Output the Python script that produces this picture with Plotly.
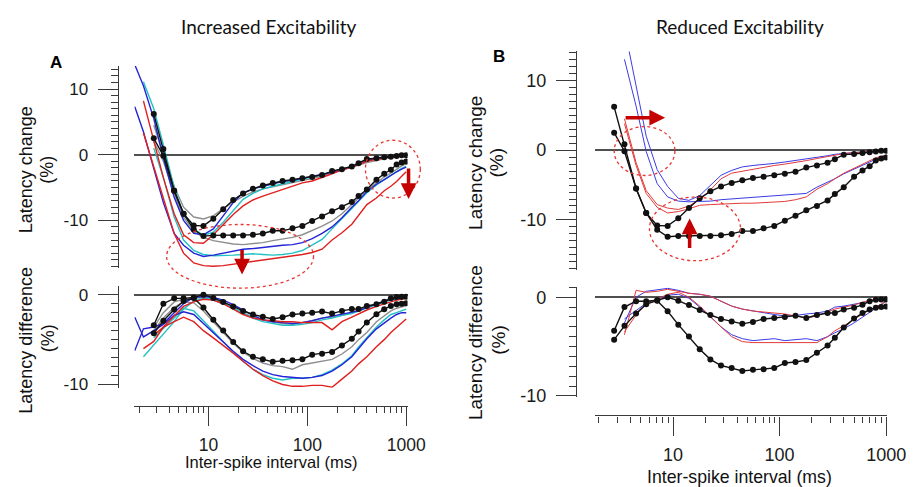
import plotly.graph_objects as go

# ---------------- data ----------------
# control (black, dotted) inter-spike intervals (ms)
ISI_CTRL = [2.8, 3.5, 4.5, 5.6, 7.1, 8.9, 11.2, 14.1, 17.8, 22.4, 28.2, 35.5, 44.7, 56.2, 70.8,
            89.1, 112, 141, 178, 224, 282, 330, 400, 500, 600, 700, 800, 900, 1000]
CTRL_1_TOP = [6.2, 0.85, -5.5, -9.0, -10.8, -10.85, -9.75, -8.3, -6.9, -5.9, -5.2, -4.7, -4.3, -4.0, -3.8,
              -3.6, -3.4, -3.1, -2.5, -2.2, -1.8, -1.3, -0.65, -0.55, -0.4, -0.3, -0.2, -0.1, -0.1]
CTRL_2_TOP = [2.5, -0.15, -5.5, -9.0, -11.4, -12.4, -12.3, -12.3, -12.3, -12.3, -12.2, -12.0, -11.6, -11.6, -11.2,
              -10.85, -10.1, -9.4, -8.6, -8.0, -7.2, -6.3, -5.3, -3.8, -2.9, -2.3, -1.5, -1.2, -1.05]
CTRL_1_DIFF = [-3.4, -1.0, -0.4, -0.4, -0.3, 0.0, -0.35, -0.8, -1.3, -1.8, -2.2, -2.45, -2.7, -2.5, -2.2,
               -2.1, -2.0, -1.87, -2.1, -1.8, -1.6, -1.6, -1.25, -1.06, -0.77, -0.4, -0.26, -0.22, -0.22]
CTRL_2_DIFF = [-4.3, -2.9, -1.65, -0.7, -0.35, -1.43, -2.78, -3.99, -5.27, -6.3, -6.92, -7.18, -7.47, -7.36, -7.29,
               -7.18, -6.67, -6.56, -6.37, -5.64, -4.9, -4.1, -3.08, -2.16, -1.61, -1.25, -1.06, -1.0, -0.95]

# model curves (thin coloured lines) intervals (ms)
ISI_MODEL = [1.8, 2.2, 2.8, 3.5, 4.5, 5.6, 7.1, 8.9, 11.2, 14.1, 17.8, 22.4, 28.2, 35.5, 44.7, 56.2,
             70.8, 89.1, 112, 141, 178, 224, 282, 330, 400, 500, 600, 700, 800, 900, 1000]

# Panel A - latency change
A_GRAY_1 = [None, None, 4.5, 0.2, -4.8, -8.0, -9.5, -9.8, -9.3, -8.2, -7.2, -6.3, -5.7, -5.2, -4.9, -4.6,
            -4.3, -4.0, -3.7, -3.3, -2.8, -2.3, -1.9, -1.6, -1.2, -0.9, -0.6, -0.4, -0.3, -0.2, -0.1]
A_GRAY_2 = [None, None, 2.0, -1.0, -6.0, -9.5, -11.7, -12.6, -13.1, -13.4, -13.6, -13.7, -13.6, -13.4, -13.1, -12.9,
            -12.6, -12.2, -11.6, -10.9, -10.1, -9.0, -7.6, -6.6, -5.4, -4.3, -3.4, -2.8, -2.2, -1.7, -1.4]
A_CYAN_1 = [None, 11.1, 7.0, 1.5, -5.0, -9.0, -11.3, -12.3, -11.8, -10.3, -8.5, -6.8, -5.9, -5.2, -4.8, -4.4,
            -4.0, -3.7, -3.4, -3.0, -2.6, -2.2, -1.8, -1.4, -0.9, -0.6, -0.4, -0.3, -0.2, -0.1, -0.1]
A_CYAN_2 = [None, None, 1.0, -3.5, -9.5, -13.0, -14.6, -15.2, -15.4, -15.4, -15.3, -15.2, -15.1, -15.2, -15.3, -15.2,
            -15.0, -14.6, -13.8, -12.9, -11.3, -9.8, -8.2, -7.1, -5.8, -4.6, -3.8, -3.1, -2.5, -2.1, -1.8]
A_BLUE_1 = [13.7, 10.5, 5.5, -0.5, -6.5, -10.0, -12.0, -12.2, -11.3, -9.3, -7.3, -5.8, -5.2, -4.8, -4.4, -4.1,
            -3.9, -3.6, -3.4, -3.1, -2.7, -2.3, -1.8, -1.3, -0.8, -0.5, -0.3, -0.2, -0.1, -0.1, 0.0]
A_BLUE_2 = [7.3, 3.5, -2.1, -7.3, -12.0, -13.8, -15.0, -15.5, -15.3, -15.0, -14.7, -14.4, -14.3, -14.1, -13.9, -13.8,
            -13.7, -13.4, -12.8, -12.0, -11.0, -9.6, -8.0, -7.0, -5.6, -4.5, -3.8, -3.1, -2.6, -2.2, -1.9]
A_RED_1 = [None, 8.2, 2.0, -3.5, -9.0, -12.2, -13.4, -13.5, -12.2, -10.6, -9.1, -7.8, -6.9, -6.3, -5.8, -5.3,
           -4.7, -4.3, -4.0, -3.5, -2.9, -2.3, -1.9, -1.5, -1.0, -0.7, -0.5, -0.3, -0.2, -0.1, -0.1]
A_RED_2 = [None, 3.3, -1.8, -6.5, -12.0, -15.0, -16.5, -16.9, -17.0, -16.9, -16.7, -16.5, -16.3, -16.1, -15.9, -15.7,
           -15.5, -15.2, -14.9, -14.4, -13.0, -11.9, -10.6, -9.3, -7.6, -6.6, -5.5, -4.8, -4.1, -3.3, -2.6]

# Panel A - latency difference
A_GRAY_1_D = [None, None, -3.6, -2.0, -0.8, -0.5, -0.4, -0.3, -0.6, -1.0, -1.5, -2.0, -2.5, -2.8, -3.0, -3.2,
              -3.3, -3.1, -2.9, -2.6, -2.5, -2.3, -2.0, -1.7, -1.4, -1.0, -0.7, -0.5, -0.4, -0.3, -0.3]
A_GRAY_2_D = [None, None, -4.0, -2.6, -1.4, -0.8, -0.9, -1.8, -3.0, -4.2, -5.4, -6.4, -7.1, -7.6, -7.9, -8.0,
              -8.3, -7.8, -7.6, -7.4, -7.2, -6.6, -5.8, -5.0, -4.2, -3.0, -2.3, -1.8, -1.5, -1.3, -1.2]
A_CYAN_1_D = [None, -6.9, -5.6, -4.4, -3.0, -1.6, -0.7, -0.4, -0.5, -0.9, -1.5, -2.1, -2.6, -3.0, -3.2, -3.4,
              -3.4, -3.3, -3.1, -2.8, -2.6, -2.3, -2.1, -1.8, -1.5, -1.1, -0.8, -0.6, -0.5, -0.4, -0.4]
A_CYAN_2_D = [None, None, -4.8, -3.8, -2.6, -1.5, -1.8, -2.9, -4.1, -5.3, -6.4, -7.4, -8.3, -8.9, -9.3, -9.5,
              -9.3, -9.3, -9.2, -8.9, -8.4, -7.7, -6.8, -5.8, -4.8, -3.6, -2.8, -2.2, -2.0, -1.8, -1.6]
A_BLUE_1_D = [-6.2, -3.8, -3.6, -3.2, -2.0, -1.0, -0.3, -0.2, -0.3, -0.6, -1.1, -1.7, -2.3, -2.8, -3.0, -3.1,
              -3.2, -3.1, -2.9, -2.6, -2.4, -2.2, -2.0, -1.8, -1.4, -1.0, -0.7, -0.5, -0.4, -0.3, -0.3]
A_BLUE_2_D = [-2.5, -4.7, -4.0, -3.3, -2.3, -1.9, -2.2, -3.2, -4.2, -5.3, -6.3, -7.2, -7.9, -8.5, -8.9, -9.1,
              -9.2, -9.3, -9.2, -9.0, -8.5, -7.8, -6.9, -6.0, -4.9, -3.8, -3.1, -2.6, -2.2, -2.0, -2.0]
A_RED_1_D = [None, -6.0, -5.2, -3.6, -2.4, -1.3, -0.8, -0.5, -0.6, -1.0, -1.6, -2.2, -2.6, -2.8, -2.9, -3.0,
             -3.0, -3.1, -3.1, -3.1, -3.9, -3.0, -2.5, -2.1, -1.7, -1.3, -1.0, -0.8, -0.6, -0.5, -0.4]
A_RED_2_D = [None, None, -4.5, -3.6, -3.0, -2.5, -3.0, -4.0, -4.8, -5.6, -6.5, -7.4, -8.3, -9.0, -9.6, -10.0,
             -10.2, -10.2, -10.1, -10.1, -10.3, -9.4, -8.5, -7.7, -6.9, -5.8, -5.0, -4.2, -3.6, -3.1, -2.7]

# Panel B - latency change
B_BLUE_1 = [None, None, None, 17.5, 9.0, 2.0, -2.8, -5.2, -6.9, -7.2, -6.5, -5.0, -3.6, -2.9, -2.4, -2.2,
            -2.1, -1.9, -1.7, -1.5, -1.3, -1.0, -0.8, -0.6, -0.45, -0.35, -0.25, -0.2, -0.1, -0.1, -0.05]
B_BLUE_2 = [None, None, None, 13.0, 6.3, -0.2, -4.8, -6.7, -7.3, -7.4, -7.35, -7.3, -7.1, -7.0, -6.9, -6.8,
            -6.7, -6.6, -6.5, -6.4, -6.2, -5.3, -4.6, -4.1, -3.4, -2.7, -2.1, -1.7, -1.3, -1.0, -0.8]
B_RED_1 = [None, None, None, 4.5, -1.8, -5.8, -7.8, -8.3, -8.5, -8.0, -7.1, -5.7, -4.1, -3.3, -3.0, -2.7,
           -2.4, -2.2, -2.0, -1.8, -1.5, -1.2, -0.9, -0.7, -0.5, -0.35, -0.25, -0.2, -0.1, -0.05, -0.05]
B_RED_2 = [None, None, None, 3.8, -2.2, -6.2, -8.2, -9.0, -8.8, -8.4, -7.9, -7.8, -7.7, -7.7, -7.6, -7.6,
           -7.5, -7.45, -7.35, -7.1, -6.7, -5.6, -4.8, -4.1, -3.3, -2.6, -2.0, -1.5, -1.1, -0.9, -0.7]

# Panel B - latency difference
B_BLUE_1_D = [None, None, None, -2.6, 0.0, 0.6, 0.75, 0.9, 0.7, 0.4, 0.3, 0.1, -0.4, -0.9, -1.2, -1.4,
              -1.6, -1.75, -1.9, -1.85, -1.7, -1.6, -1.4, -1.0, -0.9, -0.7, -0.5, -0.4, -0.3, -0.25, -0.2]
B_BLUE_2_D = [None, None, None, -2.2, -1.3, -0.6, -0.2, 0.2, 0.3, -0.1, -1.0, -2.0, -3.0, -3.8, -4.2, -4.4,
              -4.3, -4.2, -4.4, -4.3, -4.2, -4.4, -4.0, -3.6, -3.2, -2.6, -2.0, -1.5, -1.1, -0.7, -0.4]
B_RED_1_D = [None, None, None, -3.8, 0.7, 0.5, 0.6, 0.8, 0.6, 0.4, 0.3, 0.1, -0.4, -0.9, -1.2, -1.4,
             -1.5, -1.6, -1.7, -1.9, -2.1, -1.9, -1.5, -1.2, -1.0, -0.8, -0.5, -0.3, -0.2, -0.15, -0.1]
B_RED_2_D = [None, None, None, -3.5, -1.8, -0.7, -0.2, 0.3, 0.5, 0.0, -0.9, -2.0, -3.0, -4.0, -4.5, -4.6,
             -4.6, -4.6, -4.6, -4.6, -4.6, -4.6, -4.0, -3.4, -2.9, -2.2, -1.7, -1.3, -1.0, -0.7, -0.4]

X_MAJOR = [10, 100, 1000]
X_MAJOR_TEXT = ["10", "100", "1000"]
X_MEDIUM = [5, 50, 500]
X_MINOR = [2, 3, 4, 5, 6, 7, 8, 9, 20, 30, 40, 50, 60, 70, 80, 90, 200, 300, 400, 500, 600, 700, 800, 900]
Y_MAJOR_TOP = [-10, 0, 10]
Y_MAJOR_TOP_TEXT = ["-10", "0", "10"]
Y_MAJOR_BOT = [-10, 0]
Y_MAJOR_BOT_TEXT = ["-10", "0"]

# ---------------- styling ----------------
W, H = 919, 487
GRAY = "#8e8e8e"
CYAN = "#22c2c4"
BLUE = "#2424d6"
RED = "#e01f1f"
BLUE_B = "#3b3be6"
RED_B = "#e23a3a"
BLACK = "#111111"
AX = "#3a3a3a"
TICKFONT = "Liberation Sans, Arial, sans-serif"


def px(x):
    return x / W


def py(y):
    return 1 - y / H


fig = go.Figure()


def add_line(y, color, width, xa, ya):
    fig.add_trace(go.Scatter(x=ISI_MODEL, y=y, mode="lines", line=dict(color=color, width=width),
                             xaxis=xa, yaxis=ya, showlegend=False, hoverinfo="skip", connectgaps=False))


def add_ctrl(y, xa, ya):
    fig.add_trace(go.Scatter(x=ISI_CTRL, y=y, mode="lines+markers", line=dict(color=BLACK, width=1.4),
                             marker=dict(color=BLACK, size=6), xaxis=xa, yaxis=ya,
                             showlegend=False, hoverinfo="skip"))


# Panel A top
for ys, c in [(A_GRAY_1, GRAY), (A_GRAY_2, GRAY), (A_CYAN_1, CYAN), (A_CYAN_2, CYAN),
              (A_BLUE_1, BLUE), (A_BLUE_2, BLUE), (A_RED_1, RED), (A_RED_2, RED)]:
    add_line(ys, c, 1.4, "x", "y")
add_ctrl(CTRL_1_TOP, "x", "y")
add_ctrl(CTRL_2_TOP, "x", "y")
# Panel A bottom
for ys, c in [(A_GRAY_1_D, GRAY), (A_GRAY_2_D, GRAY), (A_CYAN_1_D, CYAN), (A_CYAN_2_D, CYAN),
              (A_BLUE_1_D, BLUE), (A_BLUE_2_D, BLUE), (A_RED_1_D, RED), (A_RED_2_D, RED)]:
    add_line(ys, c, 1.4, "x", "y2")
add_ctrl(CTRL_1_DIFF, "x", "y2")
add_ctrl(CTRL_2_DIFF, "x", "y2")
# Panel B top
for ys, c in [(B_BLUE_1, BLUE_B), (B_BLUE_2, BLUE_B), (B_RED_1, RED_B), (B_RED_2, RED_B)]:
    add_line(ys, c, 1.0, "x2", "y3")
add_ctrl(CTRL_1_TOP, "x2", "y3")
add_ctrl(CTRL_2_TOP, "x2", "y3")
# Panel B bottom
for ys, c in [(B_BLUE_1_D, BLUE_B), (B_BLUE_2_D, BLUE_B), (B_RED_1_D, RED_B), (B_RED_2_D, RED_B)]:
    add_line(ys, c, 1.0, "x2", "y4")
add_ctrl(CTRL_1_DIFF, "x2", "y4")
add_ctrl(CTRL_2_DIFF, "x2", "y4")


def yaxis(domain, rng, pos, vals, text, fs):
    return dict(domain=domain, range=rng, anchor="free", position=pos, showgrid=False,
                zeroline=True, zerolinecolor="#505050", zerolinewidth=1.6,
                showline=True, linecolor=AX, linewidth=1.3,
                ticks="outside", ticklen=20, tickwidth=1.3, tickcolor=AX,
                tickmode="array", tickvals=vals, ticktext=text, ticklabelstandoff=6,
                tickfont=dict(family=TICKFONT, size=fs, color="#1a1a1a"),
                minor=dict(dtick=1, ticklen=7, tickwidth=1, tickcolor=AX, ticks="outside", showgrid=False))


def ymed(over, rng, pos, vals):
    return dict(overlaying=over, range=rng, anchor="free", position=pos, showgrid=False, zeroline=False,
                showline=False, ticks="outside", ticklen=13, tickwidth=1.2, tickcolor=AX,
                tickmode="array", tickvals=vals, showticklabels=False)


def xaxis(domain, rng, pos, fs):
    return dict(type="log", domain=domain, range=rng, anchor="free", position=pos, showgrid=False,
                zeroline=False, showline=True, linecolor=AX, linewidth=1.3,
                ticks="outside", ticklen=19, tickwidth=1.3, tickcolor=AX,
                tickmode="array", tickvals=X_MAJOR, ticktext=X_MAJOR_TEXT, ticklabelstandoff=4,
                tickfont=dict(family=TICKFONT, size=fs, color="#1a1a1a"),
                minor=dict(tickmode="array", tickvals=X_MINOR, ticklen=6, tickwidth=1.1,
                           tickcolor=AX, ticks="outside", showgrid=False))


def xmed(over, rng, pos):
    return dict(overlaying=over, type="log", range=rng, anchor="free", position=pos, showgrid=False,
                zeroline=False, showline=False, ticks="outside", ticklen=13, tickwidth=1.2,
                tickcolor=AX, tickmode="array", tickvals=X_MEDIUM, showticklabels=False)


RA_X = [0.2504, 3.014]
RB_X = [0.264, 3.012]
RA_Y1 = [-17.2, 13.5]
RA_Y2 = [-10.36, 0.92]
RB_Y1 = [-17.2, 14.14]
RB_Y2 = [-10.1, 1.02]
POS_AY = px(112)
POS_BY = px(580)
POS_AX = py(405)
POS_BX = py(415)

fig.update_layout(
    width=W, height=H, margin=dict(l=0, r=0, t=0, b=0),
    paper_bgcolor="white", plot_bgcolor="rgba(0,0,0,0)", showlegend=False,
    xaxis=xaxis([px(129), px(408)], RA_X, POS_AX, 17.5),
    xaxis2=xaxis([px(599), px(898)], RB_X, POS_BX, 18),
    xaxis3=xmed("x", RA_X, POS_AX),
    xaxis4=xmed("x2", RB_X, POS_BX),
    yaxis=yaxis([py(264), py(58.3)], RA_Y1, POS_AY, Y_MAJOR_TOP, Y_MAJOR_TOP_TEXT, 17),
    yaxis2=yaxis([py(386.7), py(283.3)], RA_Y2, POS_AY, Y_MAJOR_BOT, Y_MAJOR_BOT_TEXT, 17),
    yaxis3=yaxis([py(266.7), py(43.3)], RB_Y1, POS_BY, Y_MAJOR_TOP, Y_MAJOR_TOP_TEXT, 18),
    yaxis4=yaxis([py(396), py(284)], RB_Y2, POS_BY, Y_MAJOR_BOT, Y_MAJOR_BOT_TEXT, 18),
    yaxis5=ymed("y", RA_Y1, POS_AY, [-15, -5, 5]),
    yaxis6=ymed("y2", RA_Y2, POS_AY, [-5]),
    yaxis7=ymed("y3", RB_Y1, POS_BY, [-15, -5, 5]),
    yaxis8=ymed("y4", RB_Y2, POS_BY, [-5]),
)

TXT = "Liberation Sans, Arial, sans-serif"
TITLEFONT = "Lato, Open Sans, sans-serif"
annots = [
    dict(text="Increased Excitability", x=px(267), y=py(18), font=dict(family=TITLEFONT, size=19, color="#111")),
    dict(text="Reduced Excitability", x=px(747), y=py(18), font=dict(family=TITLEFONT, size=19, color="#111")),
    dict(text="<b>A</b>", x=px(49), y=py(55), font=dict(family=TXT, size=17, color="#000")),
    dict(text="<b>B</b>", x=px(501), y=py(49), font=dict(family=TXT, size=17, color="#000")),
    dict(text="Latency change", x=px(18), y=py(164), textangle=-90, font=dict(family=TXT, size=18, color="#111")),
    dict(text="(%)", x=px(39), y=py(164), textangle=-90, font=dict(family=TXT, size=18, color="#111")),
    dict(text="Latency difference", x=px(18), y=py(338), textangle=-90, font=dict(family=TXT, size=18, color="#111")),
    dict(text="(%)", x=px(41), y=py(336), textangle=-90, font=dict(family=TXT, size=18, color="#111")),
    dict(text="Latency change", x=px(478), y=py(157), textangle=-90, font=dict(family=TXT, size=19, color="#111")),
    dict(text="(%)", x=px(499), y=py(157), textangle=-90, font=dict(family=TXT, size=19, color="#111")),
    dict(text="Latency difference", x=px(478), y=py(341), textangle=-90, font=dict(family=TXT, size=19, color="#111")),
    dict(text="(%)", x=px(500), y=py(338), textangle=-90, font=dict(family=TXT, size=19, color="#111")),
    dict(text="Inter-spike interval (ms)", x=px(269), y=py(463), font=dict(family=TXT, size=16.5, color="#111")),
    dict(text="Inter-spike interval (ms)", x=px(747), y=py(478), font=dict(family=TXT, size=17.7, color="#111")),
]
for a in annots:
    a.update(xref="paper", yref="paper", showarrow=False, xanchor="center", yanchor="middle")
    fig.add_annotation(**a)

# red arrows (tip, tail)
ARROW = "#c40000"
for (tx, ty, sx, sy) in [(239, 271, 239, 245), (409, 194, 409, 162), (671, 111, 630, 111), (696, 214, 696, 245)]:
    fig.add_annotation(x=px(tx), y=py(ty), xref="paper", yref="paper", text="", showarrow=True,
                       ax=sx - tx, ay=sy - ty, arrowhead=2, arrowsize=0.9, arrowwidth=3.5,
                       arrowcolor=ARROW, standoff=0, startstandoff=0)

# red dashed ellipses
for (x0, y0, x1, y1) in [(162, 220, 312, 285), (365, 134, 421, 193), (619, 120, 681, 170), (655, 192, 748, 257)]:
    fig.add_shape(type="circle", xref="paper", yref="paper", x0=px(x0), x1=px(x1), y0=py(y1), y1=py(y0),
                  line=dict(color="#e8352f", width=1.3, dash="3px,3px"))

fig.write_html("out.html")
